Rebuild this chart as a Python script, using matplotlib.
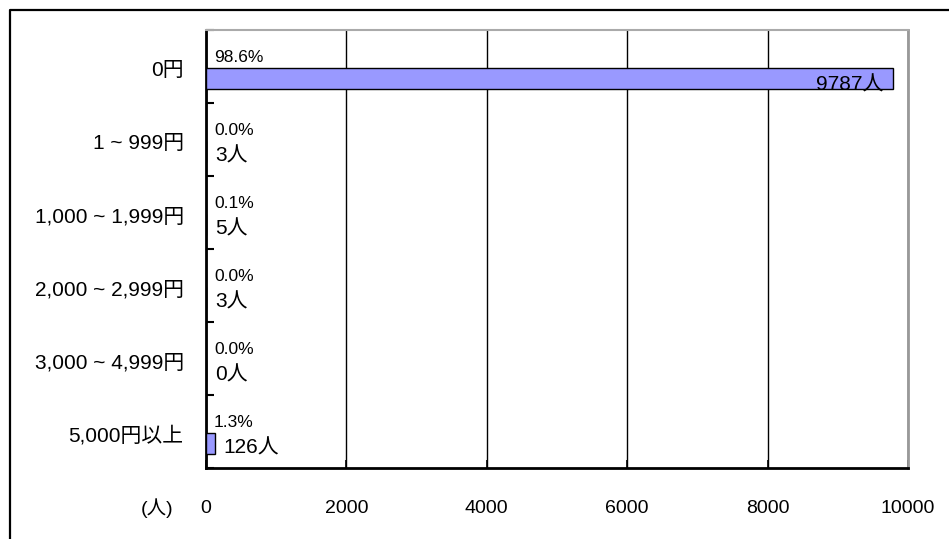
import numpy as np
import matplotlib
matplotlib.use('Agg')
import matplotlib.pyplot as plt
from matplotlib.lines import Line2D

plt.rcParams['font.family'] = ['Liberation Sans', 'Noto Sans CJK JP', 'DejaVu Sans']

# データ
categories = ['0円', '1 ~ 999円', '1,000 ~ 1,999円', '2,000 ~ 2,999円', '3,000 ~ 4,999円', '5,000円以上']
counts = [9787, 3, 5, 3, 0, 126]
percents = [98.6, 0.0, 0.1, 0.0, 0.0, 1.3]
x_ticks = [0, 2000, 4000, 6000, 8000, 10000]

fig = plt.figure(figsize=(9.49, 5.39), dpi=100)
ax = fig.add_axes([206 / 949, 71 / 539, 702 / 949, 438 / 539])

# 外枠（左と上のみ見える）
fig.add_artist(Line2D([10 / 949, 10 / 949, 1.0], [0.0, 1 - 10 / 539, 1 - 10 / 539],
                      transform=fig.transFigure, color='black', lw=1.6))

pos = np.arange(len(categories))
bar_off = 0.164
ax.barh(pos + bar_off, counts, height=0.3, color='#9999ff', edgecolor='black', lw=1.0, zorder=3)

# ラベル（割合と人数）
for i, (c, p) in enumerate(zip(counts, percents)):
    yc = i + bar_off
    ax.annotate(f'{p:.1f}%', (0, yc), xytext=(8, 21), textcoords='offset pixels',
                ha='left', va='center', fontsize=12.5, zorder=4)
    if i == 0:
        ax.annotate(f'{c}人', (c, yc), xytext=(-10, -7), textcoords='offset pixels',
                    ha='right', va='center', fontsize=15, zorder=4)
    else:
        ax.annotate(f'{c}人', (c, yc), xytext=(9, -5), textcoords='offset pixels',
                    ha='left', va='center', fontsize=15, zorder=4)

ax.set_xlim(0, 10000)
ax.set_ylim(len(categories) - 0.5, -0.5)

ax.set_xticks(x_ticks)
ax.set_xticklabels([str(t) for t in x_ticks], fontsize=14)
ax.tick_params(axis='x', direction='in', length=6, width=1.2, pad=23)
ax.grid(axis='x', color='black', lw=1.0, zorder=1)

ax.set_yticks(pos + 0.03)
ax.set_yticklabels(categories, fontsize=15)
ax.tick_params(axis='y', which='major', length=0, pad=16)
ax.set_yticks(np.arange(len(categories) + 1) - 0.5, minor=True)
ax.tick_params(axis='y', which='minor', direction='in', length=6, width=1.5)

ax.spines['left'].set_linewidth(2.0)
ax.spines['bottom'].set_linewidth(2.0)
ax.spines['top'].set_color('#aaaaaa')
ax.spines['top'].set_linewidth(1.5)
ax.spines['right'].set_color('#999999')
ax.spines['right'].set_linewidth(2.0)

fig.text(157 / 949, 1 - 508 / 539, '(人)', ha='center', va='center', fontsize=14)

fig.savefig('out.png', dpi=100)
